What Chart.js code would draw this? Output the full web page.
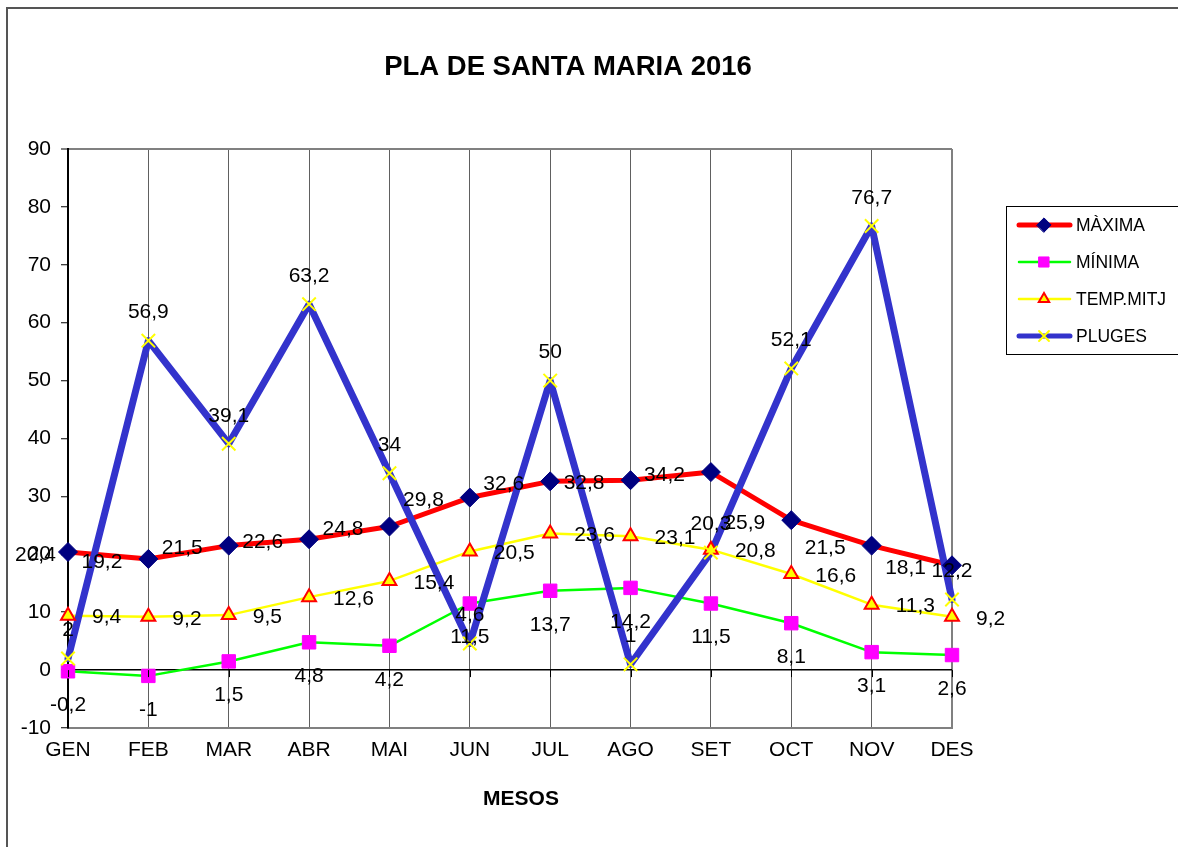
<!DOCTYPE html>
<html>
<head>
<meta charset="utf-8">
<title>PLA DE SANTA MARIA 2016</title>
<script src="https://cdn.jsdelivr.net/npm/chart.js@4/dist/chart.umd.min.js"></script>
<style>
  html, body { margin: 0; padding: 0; background: #fff; }
  #chart { display: block; }
</style>
</head>
<body>
<canvas id="chart" width="1178" height="847"></canvas>
<script>
// Dades
const months = ['GEN', 'FEB', 'MAR', 'ABR', 'MAI', 'JUN', 'JUL', 'AGO', 'SET', 'OCT', 'NOV', 'DES'];
const maxima = [20.4, 19.2, 21.5, 22.6, 24.8, 29.8, 32.6, 32.8, 34.2, 25.9, 21.5, 18.1];
const minima = [-0.2, -1, 1.5, 4.8, 4.2, 11.5, 13.7, 14.2, 11.5, 8.1, 3.1, 2.6];
const tempMitj = [9.4, 9.2, 9.5, 12.6, 15.4, 20.5, 23.6, 23.1, 20.8, 16.6, 11.3, 9.2];
const pluges = [2, 56.9, 39.1, 63.2, 34, 4.6, 50, 1, 20.3, 52.1, 76.7, 12.2];
const yTicks = { min: -10, max: 90, step: 10 };

const FONT = '"Liberation Sans", Arial, sans-serif';

// series look: line + marker + where the data label sits
const series = [
    { label: 'MÀXIMA', data: maxima, line: '#FF0000', width: 5, marker: 'rectRot', radius: 9.5,
      fill: '#000080', stroke: '#000080', mw: 1, pos: 'left' },
    { label: 'MÍNIMA', data: minima, line: '#00FF00', width: 2.5, marker: 'rect', radius: 9.5,
      fill: '#FF00FF', stroke: '#FF00FF', mw: 1, pos: 'below' },
    { label: 'TEMP.MITJ', data: tempMitj, line: '#FFFF00', width: 2.5, marker: 'triangle', radius: 8,
      fill: '#FFFF00', stroke: '#FF0000', mw: 2, pos: 'right' },
    { label: 'PLUGES', data: pluges, line: '#3333CC', width: 7, marker: 'crossRot', radius: 9.5,
      fill: '#FFFF00', stroke: '#FFFF00', mw: 2, pos: 'above' }
];

// lines first (PLUGES on top), markers after all lines
const lineSets = series.map((s, i) => ({
    label: s.label,
    data: s.data,
    borderColor: s.line,
    borderWidth: s.width,
    borderJoinStyle: 'round',
    borderCapStyle: 'round',
    pointRadius: 0,
    tension: 0,
    clip: false,
    order: 8 - i
}));
const markerSets = series.map((s, i) => ({
    label: s.label + '_pts',
    data: s.data,
    showLine: false,
    pointStyle: s.marker,
    pointRadius: s.radius,
    pointBackgroundColor: s.fill,
    pointBorderColor: s.stroke,
    pointBorderWidth: s.mw,
    clip: false,
    order: 4 - i
}));

const fmt = v => String(v).replace('.', ',');

const decorPlugin = {
    id: 'decor',
    beforeDraw(chart) {
        const ctx = chart.ctx;
        ctx.save();
        ctx.fillStyle = '#fff';
        ctx.fillRect(0, 0, chart.width, chart.height);
        // outer frame (only top/left visible)
        ctx.strokeStyle = '#555';
        ctx.lineWidth = 2;
        ctx.beginPath();
        ctx.moveTo(7, chart.height);
        ctx.lineTo(7, 8);
        ctx.lineTo(chart.width, 8);
        ctx.stroke();
        // titles
        ctx.fillStyle = '#000';
        ctx.textAlign = 'center';
        ctx.textBaseline = 'middle';
        ctx.font = 'bold 27.5px ' + FONT;
        ctx.fillText('PLA DE SANTA MARIA 2016', 568, 67);
        ctx.font = 'bold 21px ' + FONT;
        ctx.fillText('MESOS', 521, 799);
        ctx.restore();
    },
    afterDraw(chart) {
        const ctx = chart.ctx;
        const x = chart.scales.x, y = chart.scales.y;
        ctx.save();
        // tick marks on the zero line
        const y0 = y.getPixelForValue(0);
        ctx.strokeStyle = '#000';
        ctx.lineWidth = 1;
        ctx.beginPath();
        months.forEach((m, i) => {
            const px = Math.round(x.getPixelForValue(i)) + 0.5;
            ctx.moveTo(px, y0);
            ctx.lineTo(px, y0 + 7);
        });
        ctx.stroke();

        // data labels
        ctx.font = '21px ' + FONT;
        ctx.fillStyle = '#000';
        ctx.textBaseline = 'middle';
        series.forEach((s, si) => {
            const meta = chart.getDatasetMeta(series.length + si);
            meta.data.forEach((pt, i) => {
                const txt = fmt(s.data[i]);
                let tx = pt.x, ty = pt.y;
                if (s.pos === 'left') {
                    const w = ctx.measureText(txt).width;
                    tx = Math.max(pt.x - 26, 15 + w);
                    ty = pt.y + 3;
                    ctx.textAlign = 'right';
                } else if (s.pos === 'right') {
                    tx = pt.x + 24;
                    ty = pt.y + 2;
                    ctx.textAlign = 'left';
                } else if (s.pos === 'below') {
                    ty = pt.y + 34;
                    ctx.textAlign = 'center';
                } else {
                    ty = pt.y - 28;
                    ctx.textAlign = 'center';
                }
                ctx.fillText(txt, tx, ty);
            });
        });

        // legend
        const lx = 1006, ly = 206, lw = 180, lh = 148;
        ctx.strokeStyle = '#000';
        ctx.lineWidth = 1;
        ctx.strokeRect(lx + 0.5, ly + 0.5, lw, lh);
        const rows = [225, 262, 299, 336];
        ctx.font = '17.5px ' + FONT;
        ctx.textAlign = 'left';
        series.forEach((s, i) => {
            const ry = rows[i];
            ctx.strokeStyle = s.line;
            ctx.lineWidth = Math.min(s.width, 5);
            ctx.lineCap = 'round';
            ctx.beginPath();
            ctx.moveTo(1019, ry);
            ctx.lineTo(1070, ry);
            ctx.stroke();
            ctx.fillStyle = s.fill;
            ctx.strokeStyle = s.stroke;
            ctx.lineWidth = s.mw;
            Chart.helpers.drawPoint(ctx, {
                pointStyle: s.marker,
                radius: s.marker === 'crossRot' ? 7 : s.radius * 0.75,
                rotation: 0,
                borderWidth: s.mw
            }, 1044, ry);
            ctx.fillStyle = '#000';
            ctx.fillText(s.label, 1076, ry + 1);
        });
        ctx.restore();
    }
};

new Chart(document.getElementById('chart'), {
    type: 'line',
    data: { labels: months, datasets: lineSets.concat(markerSets) },
    options: {
        responsive: false,
        animation: false,
        events: [],
        layout: { padding: { top: 149, right: 226, left: 0, bottom: 0 } },
        plugins: {
            legend: { display: false },
            title: { display: false },
            tooltip: { enabled: false }
        },
        scales: {
            x: {
                type: 'category',
                offset: false,
                afterFit: s => { s.height = 119; },
                border: { display: true, color: '#808080', width: 2 },
                grid: {
                    drawTicks: false,
                    color: c => c.index === months.length - 1 ? '#808080' : '#606060',
                    lineWidth: c => c.index === months.length - 1 ? 2 : 1
                },
                ticks: {
                    color: '#000',
                    font: { family: FONT, size: 21 },
                    padding: 10,
                    autoSkip: false,
                    maxRotation: 0
                }
            },
            y: {
                min: yTicks.min,
                max: yTicks.max,
                afterFit: s => { s.width = 68; },
                border: { display: true, color: '#000', width: 2 },
                grid: {
                    drawTicks: true,
                    tickLength: 7,
                    tickColor: '#000',
                    tickWidth: 1,
                    color: c => {
                        const v = c.tick ? c.tick.value : null;
                        if (v === 0) return '#000';
                        if (v === yTicks.max) return '#808080';
                        return 'rgba(0,0,0,0)';
                    },
                    lineWidth: c => {
                        const v = c.tick ? c.tick.value : null;
                        if (v === yTicks.max) return 2;
                        return 1.5;
                    }
                },
                ticks: {
                    stepSize: yTicks.step,
                    color: '#000',
                    font: { family: FONT, size: 21 },
                    padding: 10
                }
            }
        }
    },
    plugins: [decorPlugin]
});
</script>
</body>
</html>
